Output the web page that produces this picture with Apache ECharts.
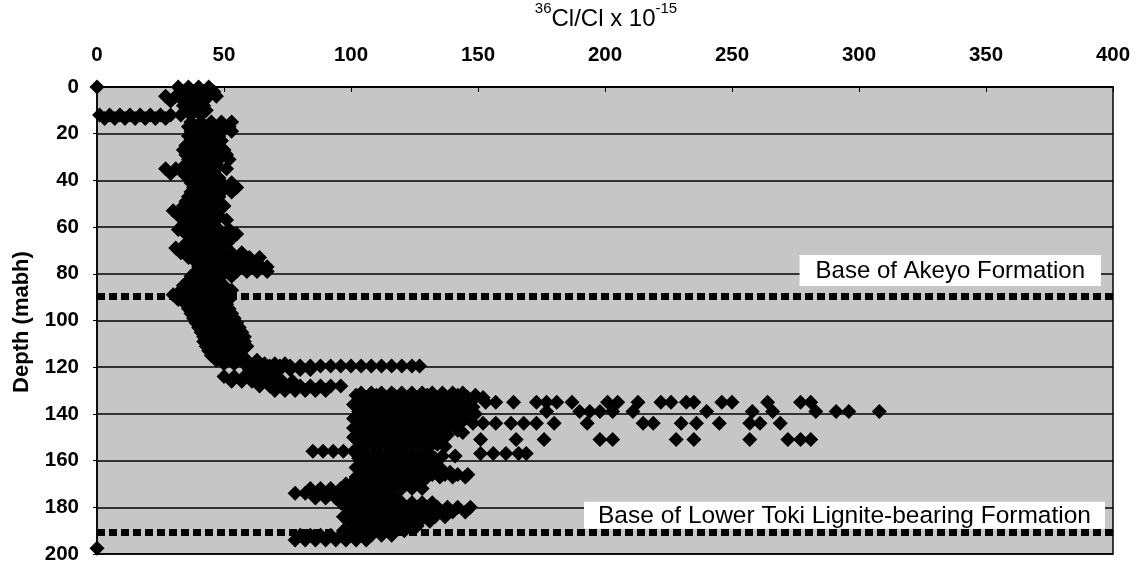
<!DOCTYPE html>
<html>
<head>
<meta charset="utf-8">
<script src="https://cdn.jsdelivr.net/npm/echarts@6/dist/echarts.min.js"></script>
<style>
  html, body { margin: 0; padding: 0; background: #fff; }
  #chart { width: 1141px; height: 565px; }
</style>
</head>
<body>
<div id="chart"></div>
<script>
// x ticks (36Cl/Cl x 10^-15) and depth ticks (mabh)
const ratioTicks = [0, 50, 100, 150, 200, 250, 300, 350, 400];
const depthTicks = [0, 20, 40, 60, 80, 100, 120, 140, 160, 180, 200];

// formation bases (depth, mabh)
const baseDepths = [89.5, 190.5];
const baseNames = ['Base of Akeyo Formation', 'Base of Lower Toki Lignite-bearing Formation'];

// readings by depth row: [depth, [36Cl/Cl values]]
const upperRows = [
  [0, [0, 32, 36, 40, 44]],
  [2, [34, 38, 42, 46]],
  [4, [27, 31, 36, 40, 44, 47]],
  [6, [29, 34, 38, 42]],
  [8, [34, 38, 42]],
  [10, [35, 39, 43]],
  [12, [1, 5, 9, 13, 17, 21, 25, 29, 33, 37, 41]],
  [13.5, [3, 7, 11, 15, 19, 23, 27]],
  [15, [37, 41, 45, 49, 53]],
  [17, [36, 40, 44, 48, 52]],
  [19, [37, 41, 45, 49, 53]],
  [21, [36, 40, 44, 48]],
  [23, [37, 41, 45, 49]],
  [25, [35, 39, 43, 47]],
  [27, [34, 38, 42, 46, 50]],
  [29, [35, 39, 43, 47, 51]],
  [31, [36, 40, 44, 48, 52]],
  [33, [35, 39, 43, 47]],
  [35, [27, 31, 35, 39, 43, 47, 51]],
  [37, [29, 34, 38, 42, 46]],
  [39, [36, 40, 44, 48]],
  [41, [37, 41, 45, 49, 53]],
  [43, [38, 42, 46, 50, 55]],
  [45, [37, 41, 45, 49, 53]],
  [47, [36, 40, 44, 48]],
  [49, [35, 39, 43, 47]],
  [51, [34, 38, 42, 46, 50]],
  [53, [30, 34, 38, 42, 46]],
  [55, [32, 36, 40, 44, 48]],
  [57, [35, 39, 43, 47, 51]],
  [59, [34, 38, 42, 46]],
  [61, [32, 36, 40, 44, 48, 52]],
  [63, [35, 39, 43, 47, 51, 55]],
  [65, [37, 41, 45, 49, 53]],
  [67, [35, 39, 43, 47, 51]],
  [69, [31, 35, 39, 43, 47]],
  [71, [33, 37, 41, 45, 49, 53, 57]],
  [73, [36, 40, 44, 48, 52, 56, 60, 64]],
  [75, [39, 43, 47, 51, 55, 59, 63]],
  [77, [40, 44, 48, 52, 56, 60, 64, 67]],
  [79, [39, 43, 47, 51, 55, 59, 63, 67]],
  [81, [37, 41, 45, 49, 53]],
  [83, [36, 40, 44, 48]],
  [85, [34, 38, 42, 46, 50]],
  [87, [33, 37, 41, 45, 49, 53]],
  [89, [30, 34, 38, 42, 46, 50]],
  [91, [32, 36, 40, 44, 48, 52]],
  [93, [35, 39, 43, 47, 51]],
  [95, [36, 40, 44, 48, 52]],
  [97, [37, 41, 45, 49, 53]],
  [99, [38, 42, 46, 50, 54]],
  [101, [39, 43, 47, 51, 55]],
  [103, [40, 44, 48, 52, 56]],
  [105, [41, 45, 49, 53, 57]],
  [107, [42, 46, 50, 54, 58]],
  [109, [42, 46, 50, 54, 58]],
  [111, [43, 47, 51, 55, 59]],
  [113, [44, 48, 52, 56]],
  [115, [45, 49, 53, 57]],
  [117, [47, 51, 55, 59, 63]],
  [118.5, [50, 54, 58, 62, 66, 70, 74]],
  [119.5, [68, 72, 76, 80, 84, 88, 92, 96, 100, 104, 108, 112, 116, 120, 124, 127]],
  [121, [60, 64, 68, 72, 76, 80, 84]],
  [124, [50, 54, 58, 62, 66, 70]],
  [126, [53, 57, 61, 65, 69, 73, 77]],
  [128, [64, 68, 72, 76, 80, 84, 88, 92, 96]],
  [130, [70, 74, 78, 82, 86, 90]]
];

const lowerRows = [
  [131, [104, 108, 112, 116, 120, 124, 128, 132, 136, 140, 144]],
  [132, [102, 110, 117, 124, 130, 136, 142, 149]],
  [133, [106, 113, 119, 126, 133, 139, 146, 152]],
  [134, [108, 115, 121, 128, 135, 141, 148]],
  [135, [104, 110, 117, 123, 130, 137, 143]],
  [136, [101, 107, 114, 120, 126, 133, 140, 146]],
  [137, [106, 112, 120, 127, 135, 141, 148]],
  [138, [109, 117, 124, 132, 139, 144]],
  [139, [103, 109, 115, 122, 130, 138, 145]],
  [140, [106, 112, 119, 127, 135, 142, 149]],
  [141, [105, 111, 118, 125, 133]],
  [142, [101, 108, 115, 122, 130, 137, 145]],
  [143, [103, 108, 114, 121, 128, 140]],
  [144, [106, 112, 119, 126, 133, 143]],
  [145, [104, 110, 117, 124, 131, 136]],
  [146, [101, 107, 114, 121, 128, 138]],
  [147, [105, 112, 119, 126, 134, 142]],
  [148, [108, 116, 122, 130, 136, 144]],
  [149, [103, 108, 113, 118, 123, 128, 133, 138]],
  [150, [101, 105, 110, 116, 120, 126, 131, 136]],
  [151, [106, 111, 116, 121, 126, 131]],
  [152, [103, 108, 113, 118, 123, 128, 133]],
  [153, [104, 109, 114, 119, 124, 129, 134]],
  [154, [106, 111, 116, 121, 126, 131, 137]],
  [156, [85, 89, 93, 97, 101, 105, 110, 115, 120, 125, 130]],
  [158, [105, 110, 115, 120, 125, 130, 136, 141]],
  [159, [103, 108, 113, 118, 123, 128, 133]],
  [160, [106, 111, 116, 121, 126]],
  [161, [108, 113, 118, 123, 128, 133]],
  [162, [104, 109, 114, 119, 124, 129]],
  [163, [102, 107, 112, 117, 122, 127, 133]],
  [164, [106, 111, 116, 121, 126, 131, 136]],
  [165, [104, 109, 114, 119, 124, 129, 134, 139]],
  [166, [107, 112, 117, 122, 127, 132, 137, 142, 146]],
  [167, [102, 110, 115, 120, 125, 130, 135, 140, 145]],
  [168, [104, 109, 114, 119, 124, 129]],
  [169, [101, 106, 111, 116, 121, 126]],
  [170, [98, 103, 108, 113, 118, 123]],
  [172, [84, 88, 92, 96, 100, 104, 108, 112, 116, 120, 124, 128]],
  [174, [78, 82, 86, 90, 94, 98, 102, 106, 110, 114]],
  [176, [86, 90, 94, 98, 102, 106, 110, 114, 118]],
  [178, [96, 100, 104, 108, 112, 116, 120, 124, 128, 132]],
  [180, [98, 102, 106, 110, 114, 118, 122, 126, 130, 134, 138, 142, 147]],
  [182, [100, 104, 108, 112, 116, 120, 124, 128, 132, 136, 140, 145]],
  [184, [97, 101, 105, 109, 113, 117, 121, 125, 129, 133, 137]],
  [186, [99, 103, 107, 111, 115, 119, 123, 127, 131]],
  [188, [102, 106, 110, 114, 118, 122, 126]],
  [190, [97, 101, 105, 109, 113, 117, 121]],
  [192, [80, 84, 88, 92, 96, 100, 104, 108, 112, 116]],
  [194, [78, 82, 86, 90, 94, 98, 102, 106]],
  [197.5, [0]]
];

// isolated high readings around 135-157 m
const spikeRows = [
  [135, [153, 157, 164, 173, 177, 181, 187, 201, 205, 213, 222, 226, 232, 235, 246, 250, 264, 277, 281]],
  [139, [177, 190, 194, 198, 203, 211, 240, 258, 266, 283, 291, 296, 308]],
  [144, [148, 152, 157, 163, 168, 173, 180, 193, 215, 219, 230, 236, 245, 257, 261, 269]],
  [151, [151, 165, 176, 198, 203, 228, 235, 257, 272, 277, 281]],
  [157, [151, 156, 161, 166, 169]]
];

function toPoints(rows) {
  const pts = [];
  rows.forEach(([d, vals]) => vals.forEach(v => pts.push([v, d])));
  return pts;
}

const chart = echarts.init(document.getElementById('chart'));

const font = 'Liberation Sans, Arial, sans-serif';

chart.setOption({
  backgroundColor: '#fff',
  animation: false,
  grid: {
    left: 97, right: 28, top: 87, bottom: 11,
    show: true,
    backgroundColor: '#c6c6c6',
    borderColor: '#000',
    borderWidth: 1.5
  },
  xAxis: {
    type: 'value',
    position: 'top',
    min: 0, max: 400, interval: 50,
    axisLine: { lineStyle: { color: '#000', width: 1.5 } },
    axisTick: { inside: true, length: 5, lineStyle: { color: '#000' } },
    axisLabel: {
      margin: 21,
      color: '#000', fontSize: 20.5, fontWeight: 'bold', fontFamily: font,
      customValues: ratioTicks
    },
    splitLine: { show: false }
  },
  yAxis: {
    type: 'value',
    inverse: true,
    min: 0, max: 200, interval: 20,
    axisLine: { lineStyle: { color: '#000', width: 1.5 } },
    axisTick: { length: 4, lineStyle: { color: '#000' } },
    axisLabel: {
      margin: 18,
      color: '#000', fontSize: 20.5, fontWeight: 'bold', fontFamily: font
    },
    splitLine: { show: true, lineStyle: { color: '#000', width: 1.5 } }
  },
  graphic: [
    {
      type: 'text',
      x: 606, y: 16,
      style: {
        text: '{sup|36}{n|Cl/Cl x 10}{sup|-15}',
        align: 'center', verticalAlign: 'middle',
        rich: {
          n: { fontSize: 24, fontFamily: font, fill: '#000', verticalAlign: 'bottom', lineHeight: 30 },
          sup: { fontSize: 15, fontFamily: font, fill: '#000', verticalAlign: 'top', lineHeight: 18 }
        }
      }
    },
    {
      type: 'text',
      x: 22, y: 322,
      rotation: Math.PI / 2,
      style: {
        text: 'Depth (mabh)',
        fontSize: 22, fontWeight: 'bold', fontFamily: font, fill: '#000',
        align: 'center', verticalAlign: 'middle'
      }
    }
  ],
  series: [
    {
      type: 'scatter',
      symbol: 'diamond',
      symbolSize: 15,
      itemStyle: { color: '#000', opacity: 1 },
      data: toPoints(upperRows).concat(toPoints(lowerRows), toPoints(spikeRows)),
      markLine: {
        silent: true,
        symbol: 'none',
        lineStyle: { color: '#000', width: 7, type: [8, 4], opacity: 1 },
        data: [
          {
            yAxis: baseDepths[0],
            label: {
              show: true, position: 'insideEndTop', distance: [12, 10],
              formatter: baseNames[0],
              fontSize: 24, fontFamily: font, color: '#000',
              backgroundColor: '#fff', padding: [4, 16, 3, 16]
            }
          },
          {
            yAxis: baseDepths[1],
            label: {
              show: true, position: 'insideEndTop', distance: [8, 3],
              formatter: baseNames[1],
              fontSize: 24.5, fontFamily: font, color: '#000',
              backgroundColor: '#fff', padding: [2, 14, 0, 14]
            }
          }
        ]
      }
    }
  ]
});
</script>
</body>
</html>
